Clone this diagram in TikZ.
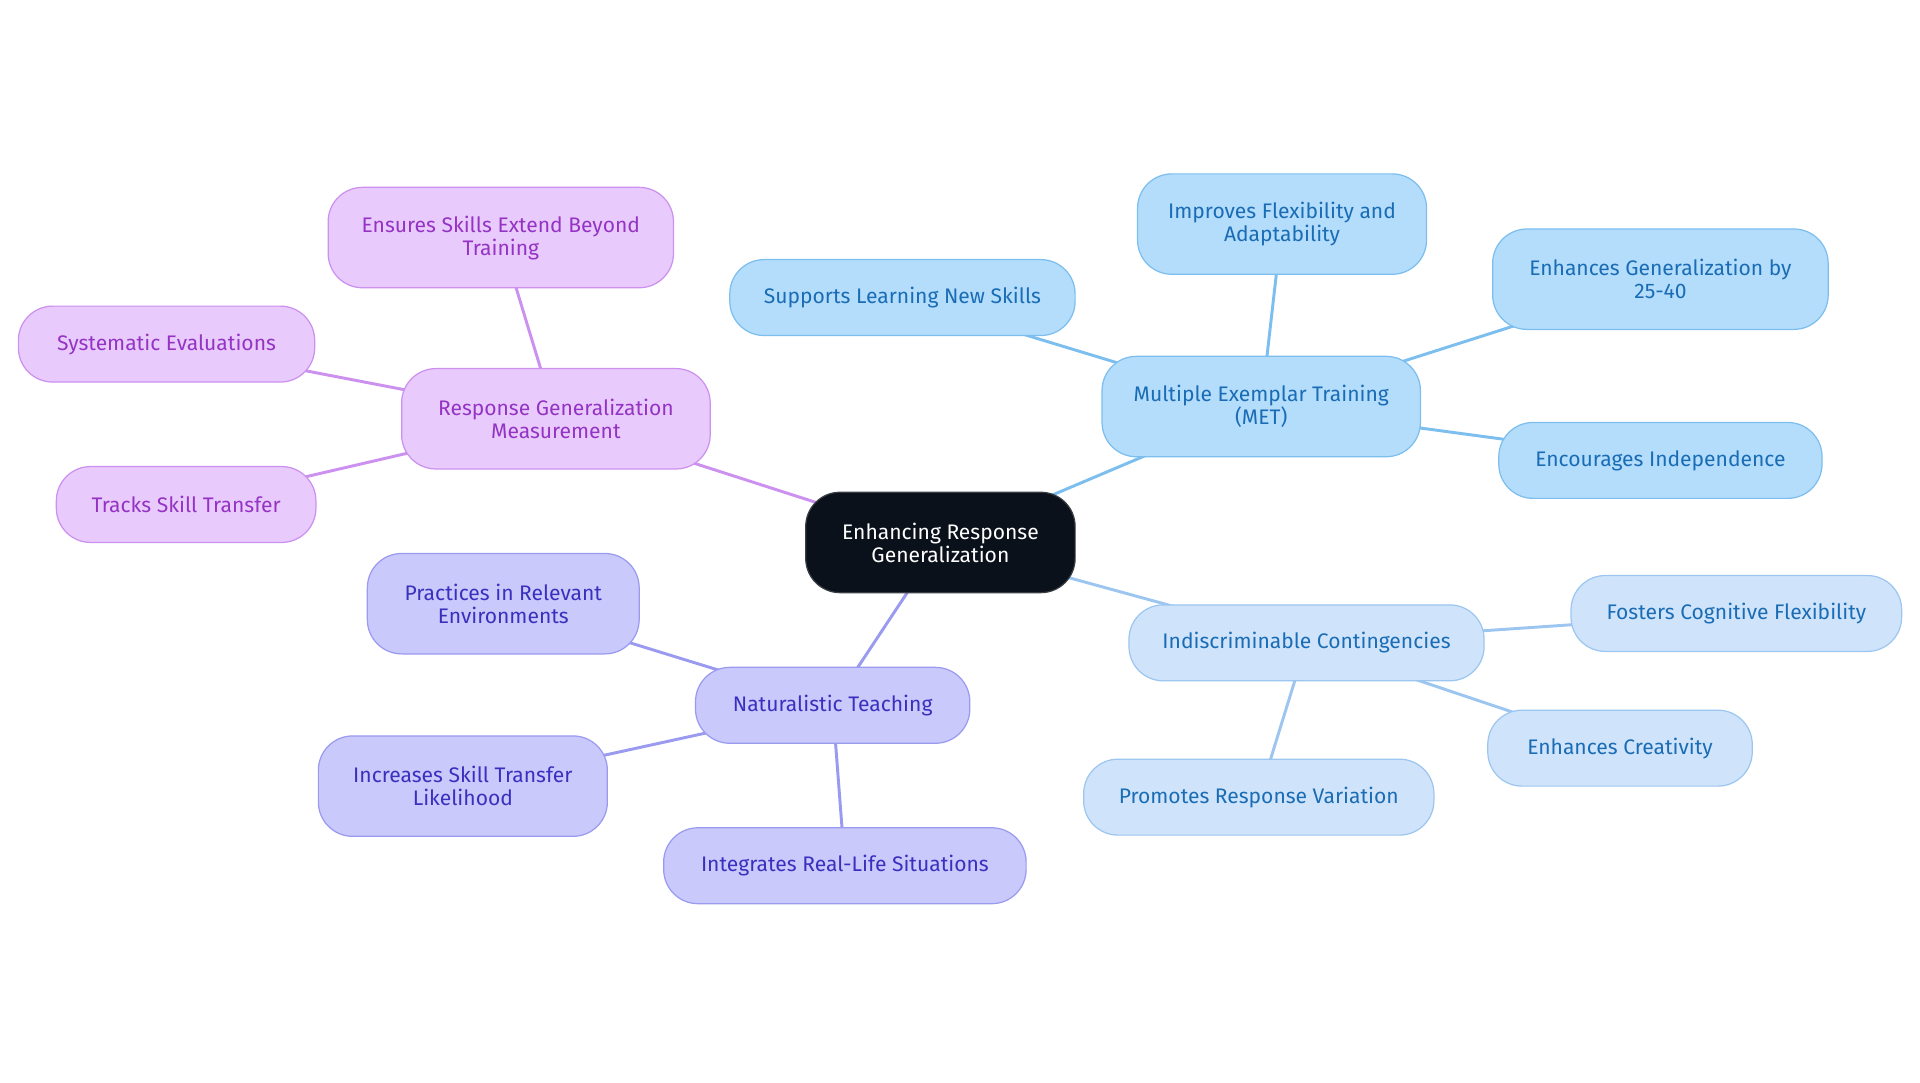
\documentclass[tikz,border=0pt]{standalone}
\usepackage{fontspec}
\setmainfont{Fira Sans}
\usetikzlibrary{backgrounds}
\definecolor{metF}{HTML}{B3DDFB}\definecolor{metD}{HTML}{7CBEEE}\definecolor{metT}{HTML}{1A6CB5}
\definecolor{indF}{HTML}{CFE4FA}\definecolor{indD}{HTML}{9CC6F0}\definecolor{indT}{HTML}{1A6CB5}
\definecolor{natF}{HTML}{C9C9FC}\definecolor{natD}{HTML}{9A9AF0}\definecolor{natT}{HTML}{3A30BE}
\definecolor{resF}{HTML}{E8CBFC}\definecolor{resD}{HTML}{CC90EE}\definecolor{resT}{HTML}{9433C4}
\definecolor{ctrF}{HTML}{0B111A}
\begin{document}
\begin{tikzpicture}[x=0.5pt,y=-0.5pt,
 box/.style={rounded corners=14pt,draw,line width=0.5pt,align=center,font=\fontsize{8.6}{9.4}\selectfont,inner sep=0pt},
 met/.style={box,fill=metF,draw=metD,text=metT},
 ind/.style={box,fill=indF,draw=indD,text=indT},
 nat/.style={box,fill=natF,draw=natD,text=natT},
 res/.style={box,fill=resF,draw=resD,text=resT},
 ctr/.style={box,fill=ctrF,draw=ctrF!60!gray,text=white},
 e/.style={line width=1.2pt}]
\useasboundingbox (0,0) rectangle (1568,884);
\node[ctr,minimum width=110pt,minimum height=41pt] (c) at (768,443) {Enhancing Response\\Generalization};
\node[met,minimum width=130pt,minimum height=41pt] (met) at (1030,332) {Multiple Exemplar Training\\(MET)};
\node[met,minimum width=141pt,minimum height=31pt] (m1) at (737,243) {Supports Learning New Skills};
\node[met,minimum width=118pt,minimum height=41pt] (m2) at (1047,183) {Improves Flexibility and\\Adaptability};
\node[met,minimum width=137pt,minimum height=41pt] (m3) at (1356,228) {Enhances Generalization by\\25-40};
\node[met,minimum width=132pt,minimum height=31pt] (m4) at (1356,376) {Encourages Independence};
\node[ind,minimum width=145pt,minimum height=31pt] (ind) at (1067,525) {Indiscriminable Contingencies};
\node[ind,minimum width=135pt,minimum height=31pt] (i1) at (1418,501) {Fosters Cognitive Flexibility};
\node[ind,minimum width=108pt,minimum height=31pt] (i2) at (1323,611) {Enhances Creativity};
\node[ind,minimum width=143pt,minimum height=31pt] (i3) at (1028,651) {Promotes Response Variation};
\node[nat,minimum width=112pt,minimum height=31pt] (nat) at (680,576) {Naturalistic Teaching};
\node[nat,minimum width=111pt,minimum height=41pt] (n1) at (411,493) {Practices in Relevant\\Environments};
\node[nat,minimum width=118pt,minimum height=41pt] (n2) at (378,642) {Increases Skill Transfer\\Likelihood};
\node[nat,minimum width=148pt,minimum height=31pt] (n3) at (690,707) {Integrates Real-Life Situations};
\node[res,minimum width=126pt,minimum height=41pt] (res) at (454,342) {Response Generalization\\Measurement};
\node[res,minimum width=141pt,minimum height=41pt] (r1) at (409,194) {Ensures Skills Extend Beyond\\Training};
\node[res,minimum width=121pt,minimum height=31pt] (r2) at (136,281) {Systematic Evaluations};
\node[res,minimum width=106pt,minimum height=31pt] (r3) at (152,412) {Tracks Skill Transfer};
\begin{pgfonlayer}{background}
\draw[e,draw=metD] (c.center)--(met.center) (met.center)--(m1.center) (met.center)--(m2.center) (met.center)--(m3.center) (met.center)--(m4.center);
\draw[e,draw=indD] (c.center)--(ind.center) (ind.center)--(i1.center) (ind.center)--(i2.center) (ind.center)--(i3.center);
\draw[e,draw=natD] (c.center)--(nat.center) (nat.center)--(n1.center) (nat.center)--(n2.center) (nat.center)--(n3.center);
\draw[e,draw=resD] (c.center)--(res.center) (res.center)--(r1.center) (res.center)--(r2.center) (res.center)--(r3.center);
\end{pgfonlayer}
\end{tikzpicture}
\end{document}
